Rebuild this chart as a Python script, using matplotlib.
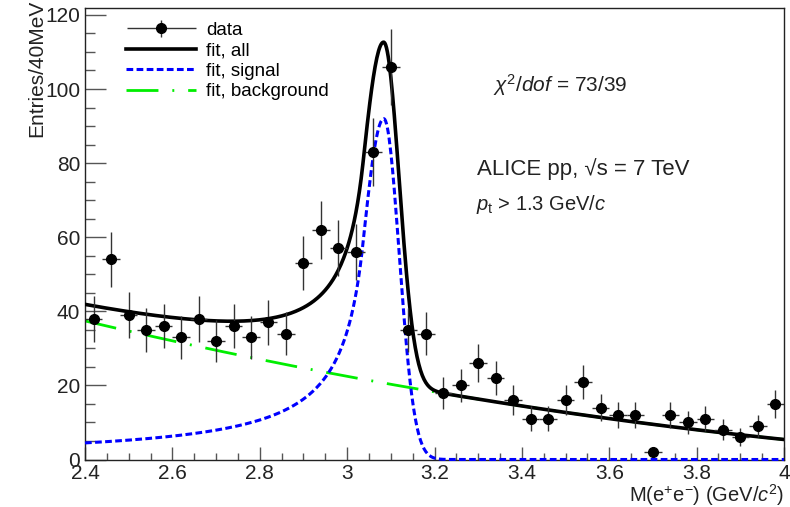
import numpy as np
import matplotlib
matplotlib.use("Agg")
import matplotlib.pyplot as plt
from matplotlib.ticker import MultipleLocator, FuncFormatter
from matplotlib.legend_handler import HandlerErrorbar
from matplotlib.lines import Line2D

plt.rcParams['font.family'] = ['Liberation Sans', 'DejaVu Sans']
plt.rcParams['mathtext.fontset'] = 'custom'
plt.rcParams['mathtext.rm'] = 'Liberation Sans'
plt.rcParams['mathtext.it'] = 'Liberation Sans:italic'

# invariant mass bins (40 MeV wide) and counts
mass = [2.42, 2.46, 2.50, 2.54, 2.58, 2.62, 2.66, 2.70, 2.74, 2.78,
        2.82, 2.86, 2.90, 2.94, 2.98, 3.02, 3.06, 3.10, 3.14, 3.18,
        3.22, 3.26, 3.30, 3.34, 3.38, 3.42, 3.46, 3.50, 3.54, 3.58,
        3.62, 3.66, 3.70, 3.74, 3.78, 3.82, 3.86, 3.90, 3.94, 3.98]
counts = [38, 54, 39, 35, 36, 33, 38, 32, 36, 33,
          37, 34, 53, 62, 57, 56, 83, 106, 35, 34,
          18, 20, 26, 22, 16, 11, 11, 16, 21, 14,
          12, 12, 2, 12, 10, 11, 8, 6, 9, 15]
bin_half = 0.02

# fit parameters (estimated from the drawn curves)
sig_norm = 92.0
sig_mean = 3.084
sig_width_left = 0.05
sig_width_right = 0.035
cb_alpha = 0.95
cb_n = 1.0
bkg_pars = [37.4, -27.87, 4.92]   # polynomial in (m - 2.4)


def signal(m):
    t = (m - sig_mean) / np.where(m < sig_mean, sig_width_left, sig_width_right)
    gaus = np.exp(-0.5 * t**2)
    a = (cb_n / cb_alpha)**cb_n * np.exp(-0.5 * cb_alpha**2)
    b = cb_n / cb_alpha - cb_alpha
    tail = a * np.abs(b - np.minimum(t, -cb_alpha))**(-cb_n)
    return sig_norm * np.where(t > -cb_alpha, gaus, tail)


def background(m):
    u = m - 2.4
    return bkg_pars[0] + bkg_pars[1] * u + bkg_pars[2] * u**2


fig = plt.figure(figsize=(7.9, 5.07), dpi=100)
ax = fig.add_axes([85 / 790, 47.5 / 507, 699 / 790, 452 / 507])

xx = np.linspace(2.4, 4.0, 801)
ax.plot(xx, background(xx), color='#00ee00', lw=2.0,
        dashes=(11.5, 5, 0.7, 5), label='fit, background', zorder=2)
ax.plot(xx, signal(xx), color='#0000ff', lw=2.2, dashes=(2.2, 1.1),
        label='fit, signal', zorder=3, clip_on=False)
ax.plot(xx, signal(xx) + background(xx), color='black', lw=2.6,
        label='fit, all', zorder=4)

err = ax.errorbar(mass, counts, xerr=bin_half, yerr=np.sqrt(counts), fmt='o',
                  color='black', ms=7, ecolor='#333333', elinewidth=1,
                  capsize=0, label='data', zorder=5)

ax.set_xlim(2.4, 4.0)
ax.set_ylim(0, 122)
ax.xaxis.set_major_locator(MultipleLocator(0.2))
ax.xaxis.set_minor_locator(MultipleLocator(0.05))
ax.yaxis.set_major_locator(MultipleLocator(20))
ax.yaxis.set_minor_locator(MultipleLocator(5))
ax.xaxis.set_major_formatter(FuncFormatter(lambda v, p: '%g' % round(v, 2)))
ax.tick_params(axis='both', which='both', direction='in', colors='#555555',
               labelcolor='#222222', labelsize=15, width=1)
ax.tick_params(axis='x', which='major', length=9.7, pad=3.5)
ax.tick_params(axis='x', which='minor', length=4.9)
ax.tick_params(axis='y', which='major', length=15, pad=3.5)
ax.tick_params(axis='y', which='minor', length=7.5)
for s in ax.spines.values():
    s.set_linewidth(1.0)
    s.set_color('#222222')

ax.set_ylabel('Entries/40MeV', fontsize=15, loc='top', color='#222222')
ax.yaxis.set_label_coords(-0.055, 1.017)
ax.set_xlabel(r'M(e$^{+}$e$^{-}$) (GeV/$c^{2}$)', fontsize=14.5, loc='right',
              color='#222222')
ax.xaxis.set_label_coords(1.0, -0.049)

handles = [err,
           Line2D([], [], color='black', lw=2.6),
           Line2D([], [], color='#0000ff', lw=2.2, dashes=(2.2, 1.1)),
           Line2D([], [], color='#00ee00', lw=2.0, dashes=(11.5, 5, 0.7, 5))]
labels = ['data', 'fit, all', 'fit, signal', 'fit, background']
ax.legend(handles, labels, loc='upper left', bbox_to_anchor=(0.04, 0.998),
          frameon=False, fontsize=13.5, handlelength=3.75, handletextpad=0.5,
          labelspacing=0.18, borderaxespad=0.3,
          handler_map={type(err): HandlerErrorbar(xerr_size=1.85, yerr_size=0.45)})

fig.text(493 / 790, 1 - 85 / 507, r'$\chi^{2}/dof$ = 73/39', fontsize=15,
         va='center', ha='left', color='#222222')
fig.text(477 / 790, 1 - 169 / 507, u'ALICE pp, \u221as = 7 TeV', fontsize=16,
         va='center', ha='left', color='#222222')
fig.text(476 / 790, 1 - 204 / 507, r'$p_{\rm t}$ > 1.3 GeV/$c$', fontsize=14.5,
         va='center', ha='left', color='#222222')

fig.savefig('out.png', dpi=100)
